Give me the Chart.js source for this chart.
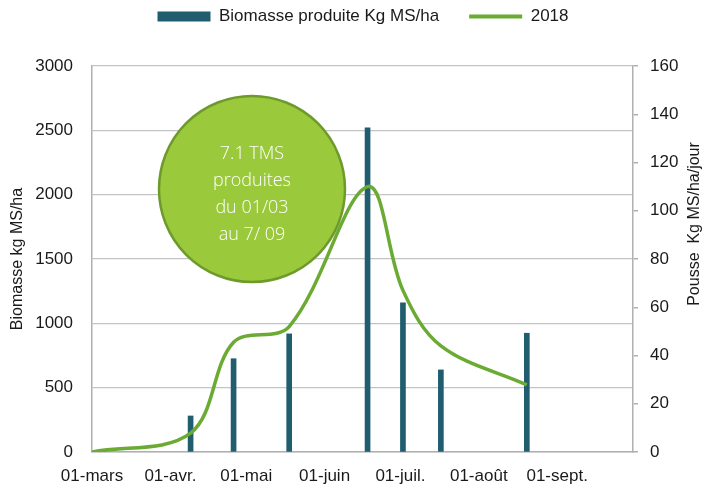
<!DOCTYPE html>
<html>
<head>
<meta charset="utf-8">
<script src="https://cdn.jsdelivr.net/npm/chart.js@4/dist/chart.umd.min.js"></script>
<style>
html,body{margin:0;padding:0;background:#fff;}
#wrap{width:706px;height:488px;}
</style>
</head>
<body>
<div id="wrap"><canvas id="c" width="706" height="488"></canvas></div>
<script>
// X axis: days counted from 01-mars
const monthLabels = ['01-mars','01-avr.','01-mai','01-juin','01-juil.','01-août','01-sept.'];
const monthDays = [0, 31, 61, 92, 122, 153, 184];
const axisEndDay = 214;

// Biomasse produite Kg MS/ha (bars, left axis)
const biomassDays = [39, 56, 78, 109, 123, 138, 172];
const biomassValues = [280, 725, 918, 2520, 1160, 638, 923];

// Pousse Kg MS/ha/jour 2018 (line, right axis)
const growthDays = [0, 39, 56, 78, 109, 123, 138, 172];
const growthValues = [0, 7.8, 45.5, 52, 110, 67, 44, 27.8];

const leftTicks = [0, 500, 1000, 1500, 2000, 2500, 3000];
const rightTicks = [0, 20, 40, 60, 80, 100, 120, 140, 160];

const calloutLines = ['7.1 TMS', 'produites', 'du 01/03', 'au 7/ 09'];

const BAR = '#1F5D6F';
const LINE = '#6BAA33';
const GRID = '#C4C4C4';
const AXIS = '#B0B0B0';
const TXT = '#1a1a1a';
const FONT = '"Liberation Sans", Arial, sans-serif';

const extras = {
  id: 'extras',
  beforeInit(chart) {
    const lg = chart.legend;
    if (lg) {
      const fit = lg.fit;
      lg.fit = function () { fit.call(this); this.height = 88; };
    }
  },
  afterLayout(chart) {
    const lg = chart.legend;
    if (lg) { lg.left += 10; lg.right += 10; }
  },
  afterDraw(chart) {
    const ctx = chart.ctx;
    // callout circle
    ctx.save();
    ctx.beginPath();
    ctx.arc(252, 189, 93, 0, Math.PI * 2);
    ctx.fillStyle = '#9BC93C';
    ctx.fill();
    ctx.lineWidth = 2.5;
    ctx.strokeStyle = '#6E9A2B';
    ctx.stroke();
    ctx.fillStyle = '#ffffff';
    ctx.font = '300 18px "Open Sans", sans-serif';
    ctx.textAlign = 'center';
    ctx.textBaseline = 'middle';
    calloutLines.forEach((t, i) => ctx.fillText(t, 252, 154 + i * 27));
    ctx.restore();
    // right axis title (reads bottom to top)
    ctx.save();
    ctx.translate(695, 224);
    ctx.rotate(-Math.PI / 2);
    ctx.font = '16px ' + FONT;
    ctx.fillStyle = TXT;
    ctx.textAlign = 'center';
    ctx.textBaseline = 'middle';
    ctx.fillText('Pousse  Kg MS/ha/jour', 0, 0);
    ctx.restore();
  }
};

new Chart(document.getElementById('c'), {
  data: {
    datasets: [
      {
        type: 'bar',
        label: 'Biomasse produite Kg MS/ha',
        data: biomassDays.map((d, i) => ({ x: d, y: biomassValues[i] })),
        backgroundColor: BAR,
        borderWidth: 0,
        barThickness: 5,
        yAxisID: 'y',
        order: 1
      },
      {
        type: 'line',
        label: '2018',
        data: growthDays.map((d, i) => ({ x: d, y: growthValues[i] })),
        borderColor: LINE,
        backgroundColor: LINE,
        borderWidth: 3.5,
        pointRadius: 0,
        tension: 0.35,
        fill: false,
        yAxisID: 'y2',
        order: 0
      }
    ]
  },
  options: {
    responsive: false,
    animation: false,
    events: [],
    layout: { padding: { top: -22, left: 0, right: 0, bottom: 0 } },
    plugins: {
      tooltip: { enabled: false },
      title: { display: false },
      legend: {
        display: true,
        position: 'top',
        labels: {
          usePointStyle: true,
          pointStyleWidth: 53,
          boxHeight: 10,
          padding: 30,
          color: TXT,
          font: { family: FONT, size: 17 },
          generateLabels: () => [
            { text: 'Biomasse produite Kg MS/ha', fillStyle: BAR, strokeStyle: BAR, lineWidth: 0, pointStyle: 'rect', datasetIndex: 0, fontColor: TXT },
            { text: '2018', fillStyle: LINE, strokeStyle: LINE, lineWidth: 4, pointStyle: 'line', datasetIndex: 1, fontColor: TXT }
          ]
        }
      }
    },
    scales: {
      x: {
        type: 'linear',
        min: 0,
        max: axisEndDay,
        offset: false,
        afterBuildTicks: (s) => { s.ticks = monthDays.map(v => ({ value: v })); },
        afterFit: (s) => { s.height = 36; },
        ticks: {
          autoSkip: false,
          maxRotation: 0,
          padding: 14,
          color: TXT,
          font: { family: FONT, size: 17 },
          callback: (v, i) => monthLabels[i]
        },
        grid: { display: false, drawTicks: false, offset: false },
        border: { display: true, color: AXIS, width: 1.5 }
      },
      y: {
        position: 'left',
        min: 0,
        max: 3000,
        afterBuildTicks: (s) => { s.ticks = leftTicks.map(v => ({ value: v })); },
        afterFit: (s) => { s.width = 92; },
        ticks: { padding: 19, color: TXT, font: { family: FONT, size: 17 }, callback: (v) => String(v) },
        grid: { color: GRID, lineWidth: 1.3, drawTicks: false },
        border: { display: true, color: AXIS, width: 1.5 },
        title: {
          display: true,
          text: 'Biomasse kg MS/ha',
          color: TXT,
          font: { family: FONT, size: 16 },
          padding: { top: 8, bottom: 0 }
        }
      },
      y2: {
        position: 'right',
        min: 0,
        max: 160,
        afterBuildTicks: (s) => { s.ticks = rightTicks.map(v => ({ value: v })); },
        afterFit: (s) => { s.width = 73; },
        ticks: { padding: 12, color: TXT, font: { family: FONT, size: 17 }, callback: (v) => String(v) },
        grid: { drawOnChartArea: false, drawTicks: true, tickLength: 5, color: AXIS, lineWidth: 1.5 },
        border: { display: true, color: AXIS, width: 1.5 }
      }
    }
  },
  plugins: [extras]
});
</script>
</body>
</html>
